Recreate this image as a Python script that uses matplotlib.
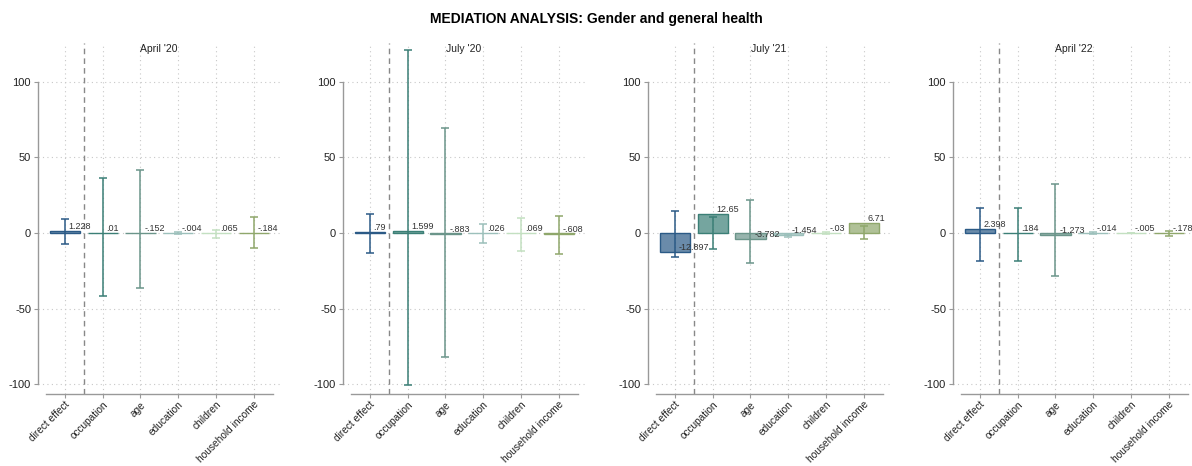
import matplotlib
matplotlib.use("Agg")
import matplotlib.pyplot as plt
import numpy as np

plt.rcParams["font.family"] = ["Liberation Sans", "DejaVu Sans"]

# Mediators (first entry is the direct effect)
categories = ["direct effect", "occupation", "age", "education", "children", "household income"]
waves = ["April '20", "July '20", "July '21", "April '22"]

# Point estimates per wave
est_apr20 = [1.228, 0.01, -0.152, -0.004, 0.065, -0.184]
est_jul20 = [0.79, 1.599, -0.883, 0.026, 0.069, -0.608]
est_jul21 = [-12.897, 12.65, -3.782, -1.454, -0.03, 6.71]
est_apr22 = [2.398, 0.184, -1.273, -0.014, -0.005, -0.178]

# 95% confidence bounds per wave
lo_apr20 = [-7.5, -41.7, -36.4, -0.8, -3.0, -10.0]
hi_apr20 = [9.1, 36.2, 41.9, 0.8, 2.0, 10.8]
lo_jul20 = [-13.0, -100.5, -82.0, -6.4, -11.7, -13.9]
hi_jul20 = [12.4, 121.0, 69.5, 5.7, 9.7, 11.3]
lo_jul21 = [-16.1, -10.8, -19.7, -2.4, -0.5, -4.2]
hi_jul21 = [14.8, 10.4, 21.9, -0.5, 0.4, 4.6]
lo_apr22 = [-18.3, -18.7, -28.5, -0.4, -0.3, -2.0]
hi_apr22 = [16.8, 16.8, 32.5, 0.4, 0.3, 1.3]

estimates = [est_apr20, est_jul20, est_jul21, est_apr22]
lowers = [lo_apr20, lo_jul20, lo_jul21, lo_apr22]
uppers = [hi_apr20, hi_jul20, hi_jul21, hi_apr22]

colors = ["#2b5a86", "#3b7f76", "#6b958a", "#9cc0bb", "#c3e0c1", "#8fa76b"]


def fmt(v):
    s = f"{v:.3f}".rstrip("0").rstrip(".")
    if s.startswith("0."):
        s = s[1:]
    elif s.startswith("-0."):
        s = "-" + s[2:]
    return s


fig = plt.figure(figsize=(11.92, 4.66), dpi=100)
fig.suptitle("MEDIATION ANALYSIS: Gender and general health", fontsize=10,
             fontweight="bold", y=0.975)

ax_w = 242 / 1192
ax_b = 72 / 466
ax_h = (394 - 42.7) / 466
x = np.arange(len(categories))

for i, wave in enumerate(waves):
    left = (38 + 305 * i) / 1192
    ax = fig.add_axes([left, ax_b, ax_w, ax_h])
    est = np.array(estimates[i])
    lo = np.array(lowers[i])
    hi = np.array(uppers[i])
    mid = (lo + hi) / 2
    half = (hi - lo) / 2

    for j in range(len(categories)):
        ax.bar(x[j], est[j], width=0.8, color=colors[j], alpha=0.7,
               edgecolor="none", zorder=3)
        ax.bar(x[j], est[j], width=0.8, facecolor="none",
               edgecolor=colors[j], linewidth=1.0, zorder=4)
        # interval drawn from its bounds
        ax.errorbar(x[j], mid[j], yerr=half[j], fmt="none", ecolor=colors[j],
                    elinewidth=1.1, capsize=3, capthick=1.1, zorder=5)
        ax.text(x[j] + 0.1, est[j], fmt(est[j]), ha="left", va="bottom",
                fontsize=6.5, color="#333333", zorder=6)

    ax.axvline(0.5, color="#888888", linestyle=(0, (4, 3)), linewidth=1.0, zorder=2)

    ax.set_xlim(-0.71, 5.69)
    ax.set_ylim(-106.6, 126)
    ax.set_yticks([-100, -50, 0, 50, 100])
    ax.set_yticklabels(["-100", "-50", "0", "50", "100"], fontsize=8)
    ax.set_xticks(x)
    ax.set_xticklabels(categories, rotation=45, ha="right",
                       rotation_mode="anchor", fontsize=7.3)

    ax.grid(True, linestyle=(0, (1, 3)), color="#c8c8c8", linewidth=0.8, zorder=0)
    for s in ["top", "right"]:
        ax.spines[s].set_visible(False)
    ax.spines["left"].set_bounds(-100, 100)
    ax.spines["bottom"].set_bounds(-0.5, 5.5)
    for s in ["left", "bottom"]:
        ax.spines[s].set_color("#999999")
        ax.spines[s].set_linewidth(1.0)
    ax.tick_params(axis="y", colors="#999999", length=3, width=0.8,
                   labelcolor="#222222", pad=2)
    ax.tick_params(axis="x", colors="#999999", length=3, width=0.8,
                   labelcolor="#222222", pad=1)

    ax.text(0.5, 0.995, wave, transform=ax.transAxes, ha="center", va="top",
            fontsize=7.5, color="#222222")

fig.savefig("out.png", dpi=100)
